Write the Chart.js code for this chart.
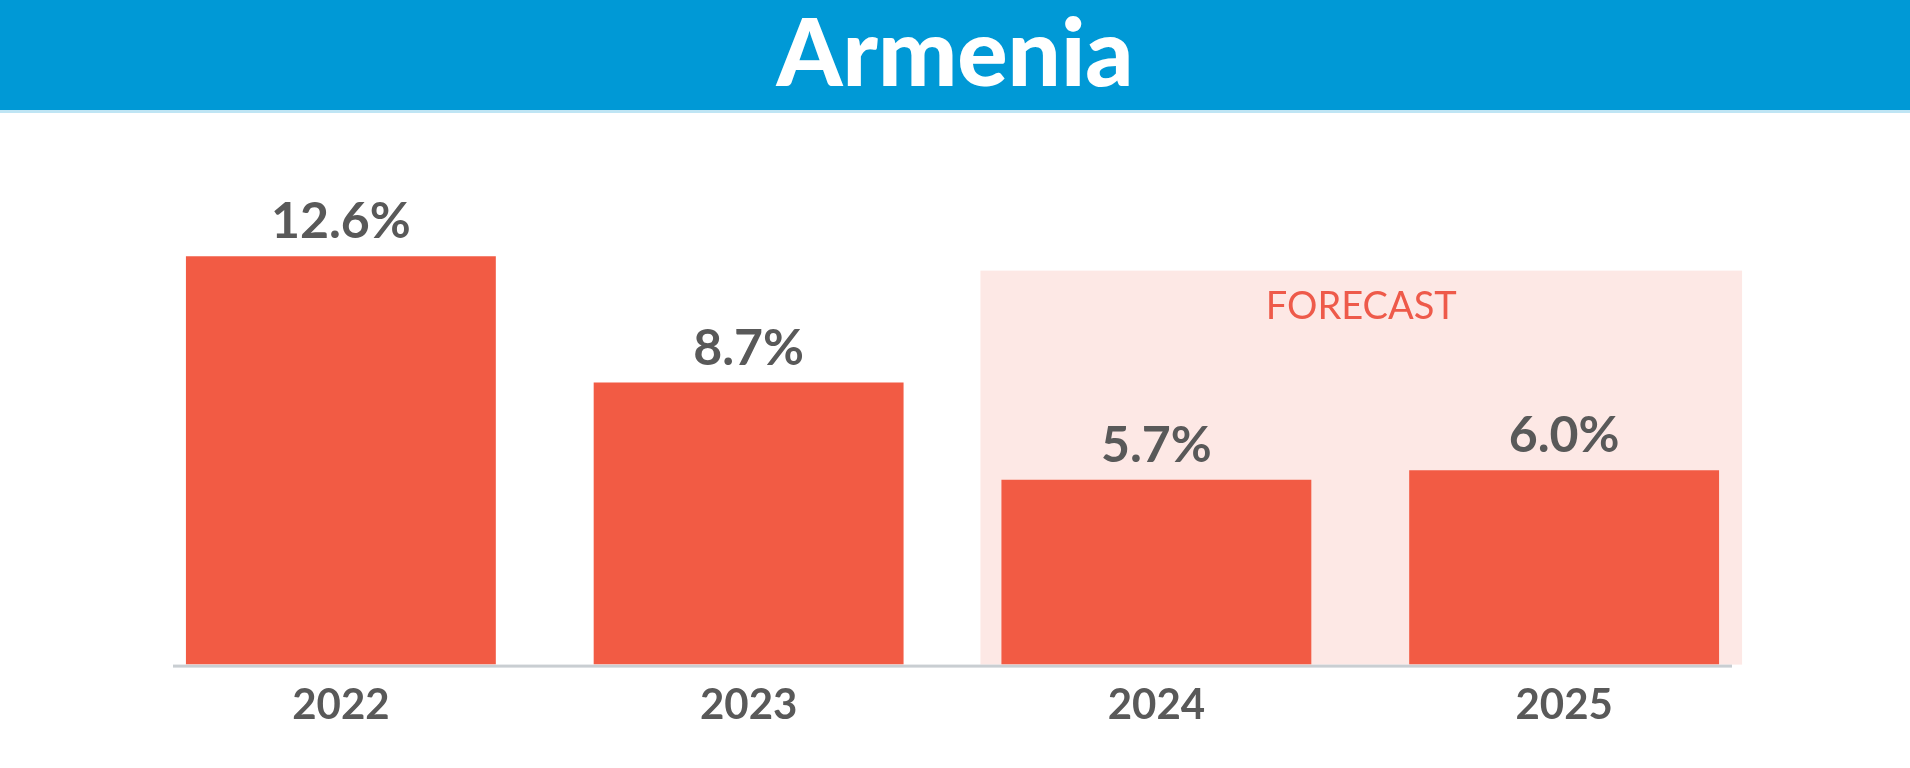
<!DOCTYPE html>
<html>
<head>
<meta charset="utf-8">
<script src="https://cdn.jsdelivr.net/npm/chart.js@4/dist/chart.umd.min.js"></script>
<style>
  body { margin: 0; background: #fff; }
  .wrap { position: relative; width: 1910px; height: 768px; overflow: hidden; }
  .header {
    position: absolute; left: 0; top: 0; width: 1910px; height: 110px;
    background: #0099d6; border-bottom: 3px solid #bfe5f4;
    color: #fff; text-align: center;
    font-family: Lato, sans-serif; font-weight: 900; font-size: 94px; line-height: 100px;
    z-index: 2;
  }
  #myChart { position: absolute; left: 0; top: 0; }
</style>
</head>
<body>
<div class="wrap">
  <div class="header">Armenia</div>
  <canvas id="myChart" width="1910" height="768"></canvas>
</div>
<script>
const years = ["2022", "2023", "2024", "2025"];
const growth = [12.6, 8.7, 5.7, 6.0];
const forecastFrom = 2;
const forecastLabel = "FORECAST";

const barColor = "#f25b44";
const textGrey = "#595959";

const decor = {
  id: "decor",
  beforeDatasetsDraw(chart) {
    const ctx = chart.ctx;
    const x = chart.scales.x;
    const y = chart.scales.y;
    const meta = chart.getDatasetMeta(0);
    const half = meta.data[0].width / 2;
    const left = x.getPixelForValue(forecastFrom) - half - 21;
    const right = x.getPixelForValue(years.length - 1) + half + 23;
    const bottom = y.getPixelForValue(0);
    const top = bottom - 394;
    ctx.save();
    ctx.fillStyle = "#fde8e5";
    ctx.fillRect(left, top, right - left, bottom - top);
    ctx.fillStyle = "#ee5a4a";
    ctx.font = "400 38px Lato";
    ctx.textAlign = "center";
    ctx.textBaseline = "alphabetic";
    ctx.fillText(forecastLabel, (left + right) / 2, top + 48);
    // axis line
    ctx.fillStyle = "#c9ced2";
    ctx.fillRect(x.left + 36, bottom, (x.right - 36) - (x.left + 36), 3);
    ctx.restore();
  },
  afterDatasetsDraw(chart) {
    const ctx = chart.ctx;
    const meta = chart.getDatasetMeta(0);
    ctx.save();
    ctx.fillStyle = textGrey;
    ctx.font = "700 50px Lato";
    ctx.textAlign = "center";
    ctx.textBaseline = "alphabetic";
    meta.data.forEach((bar, i) => {
      ctx.fillText(growth[i].toFixed(1) + "%", bar.x, bar.y - 18);
    });
    ctx.restore();
  }
};

new Chart(document.getElementById("myChart"), {
  type: "bar",
  data: {
    labels: years,
    datasets: [
      {
        label: "Growth",
        data: growth,
        backgroundColor: barColor,
        borderWidth: 0,
        barPercentage: 0.76,
        categoryPercentage: 1.0,
      },
    ],
  },
  options: {
    responsive: false,
    animation: false,
    layout: { padding: { left: 137, right: 142, top: 146, bottom: 21 } },
    plugins: {
      legend: { display: false },
      tooltip: { enabled: false },
    },
    scales: {
      x: {
        grid: { display: false, drawTicks: false },
        border: { display: false },
        ticks: {
          color: textGrey,
          padding: 16,
          font: { family: "Lato", size: 42, weight: "700" },
        },
      },
      y: {
        display: false,
        min: 0,
        max: 16,
      },
    },
  },
  plugins: [decor],
});
</script>
</body>
</html>
